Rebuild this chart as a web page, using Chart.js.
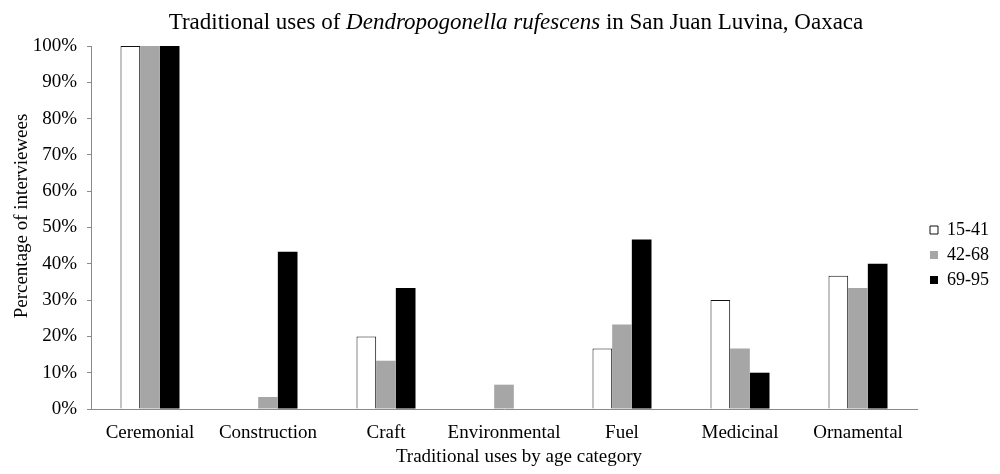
<!DOCTYPE html>
<html>
<head>
<meta charset="utf-8">
<script src="https://cdn.jsdelivr.net/npm/chart.js@4.4.1/dist/chart.umd.min.js"></script>
<style>
  html, body { margin: 0; padding: 0; background: #fff; }
  #wrap { width: 1000px; height: 474px; }
</style>
</head>
<body>
<div id="wrap"><canvas id="usesChart" width="1000" height="474"></canvas></div>
<script>
var categories = ['Ceremonial', 'Construction', 'Craft', 'Environmental', 'Fuel', 'Medicinal', 'Ornamental'];
var ageGroups = ['15-41', '42-68', '69-95'];
var young = [100, 0, 20, 0, 16.7, 30, 36.7];
var middle = [100, 3.3, 13.3, 6.7, 23.3, 16.7, 33.3];
var old = [100, 43.3, 33.3, 0, 46.7, 10, 40];
var yTicks = [0, 10, 20, 30, 40, 50, 60, 70, 80, 90, 100];

var serif = '"Liberation Serif", "Times New Roman", serif';
var axisGrey = '#898989';

// titles are drawn by hand: the main one mixes italic and upright text
var titlesPlugin = {
  id: 'titles',
  afterDraw: function (chart) {
    var ctx = chart.ctx;
    ctx.save();
    ctx.fillStyle = '#000';
    ctx.textBaseline = 'alphabetic';

    var parts = [
      ['Traditional uses of ', '23px ' + serif],
      ['Dendropogonella rufescens', 'italic 23px ' + serif],
      [' in San Juan Luvina, Oaxaca', '23px ' + serif]
    ];
    var total = 0;
    parts.forEach(function (p) { ctx.font = p[1]; total += ctx.measureText(p[0]).width; });
    var x = 516 - total / 2;
    ctx.textAlign = 'left';
    parts.forEach(function (p) {
      ctx.font = p[1];
      ctx.fillText(p[0], x, 29);
      x += ctx.measureText(p[0]).width;
    });

    ctx.font = '19px ' + serif;
    ctx.textAlign = 'center';
    ctx.fillText('Traditional uses by age category', 519, 462);

    ctx.translate(27, 216);
    ctx.rotate(-Math.PI / 2);
    ctx.fillText('Percentage of interviewees', 0, 0);
    ctx.restore();
  }
};

var ctx = document.getElementById('usesChart');
var usesChart = new Chart(ctx, {
  type: 'bar',
  data: {
    labels: categories,
    datasets: [{
      label: ageGroups[0],
      data: young,
      backgroundColor: '#ffffff',
      borderColor: '#111111',
      borderWidth: 1
    }, {
      label: ageGroups[1],
      data: middle,
      backgroundColor: '#a6a6a6',
      borderWidth: 0
    }, {
      label: ageGroups[2],
      data: old,
      backgroundColor: '#000000',
      borderWidth: 0
    }]
  },
  options: {
    responsive: false,
    animation: false,
    layout: { padding: { top: 46, left: 0, right: 10, bottom: 0 } },
    datasets: { bar: { categoryPercentage: 0.5, barPercentage: 1.0 } },
    plugins: {
      title: { display: false },
      tooltip: { enabled: false },
      legend: {
        position: 'right',
        fullSize: false,
        maxWidth: 67,
        title: { display: true, text: ' ', font: { size: 10, lineHeight: 1 }, padding: { top: 0, bottom: 45 } },
        labels: {
          boxWidth: 8,
          boxHeight: 8,
          padding: 7,
          color: '#000',
          font: { family: serif, size: 18 }
        }
      }
    },
    scales: {
      x: {
        grid: { display: false, drawTicks: false },
        border: { display: true, color: axisGrey, width: 1 },
        ticks: {
          color: '#000',
          padding: 13,
          maxRotation: 0,
          minRotation: 0,
          autoSkip: false,
          font: { family: serif, size: 19 }
        },
        afterFit: function (scale) { scale.height = 65; }
      },
      y: {
        min: 0,
        max: 100,
        afterBuildTicks: function (scale) {
          scale.ticks = yTicks.map(function (v) { return { value: v }; });
        },
        grid: { display: true, drawOnChartArea: false, drawTicks: true, tickLength: 4, color: axisGrey },
        border: { display: true, color: axisGrey, width: 1 },
        ticks: {
          color: '#000',
          padding: 10,
          font: { family: serif, size: 19 },
          callback: function (v) { return v + '%'; }
        },
        afterFit: function (scale) { scale.width = 91; }
      },
      // empty spacer between the plot and the legend
      gap: {
        type: 'linear',
        position: 'right',
        display: true,
        grid: { display: false },
        border: { display: false },
        ticks: { display: false },
        afterFit: function (scale) { scale.width = 6; }
      }
    }
  },
  plugins: [titlesPlugin]
});
</script>
</body>
</html>
